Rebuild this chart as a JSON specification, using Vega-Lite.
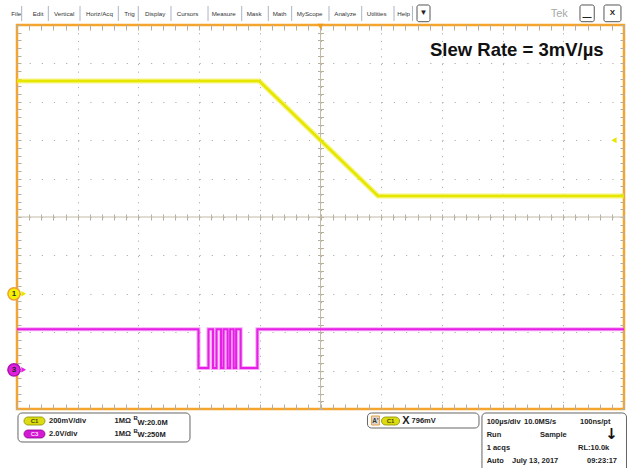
{
  "$schema": "https://vega.github.io/schema/vega-lite/v6.json",
  "width": 607,
  "height": 384,
  "autosize": {"type": "none"},
  "padding": {"left": 17, "top": 25, "right": 4, "bottom": 59},
  "background": "white",
  "config": {
    "view": {"stroke": "#f5a52c", "strokeWidth": 2.5},
    "font": "Liberation Sans",
    "text": {"font": "Liberation Sans"}
  },
  "datasets": {
    "yellow": [
      {"t": -500, "div": 3.54},
      {"t": -100.8, "div": 3.54},
      {"t": 94.7, "div": 0.55},
      {"t": 500, "div": 0.55}
    ],
    "magenta": [
      {"t": -500, "div": -2.92},
      {"t": -201.0, "div": -3.93},
      {"t": -184.5, "div": -2.92},
      {"t": -177.1, "div": -3.93},
      {"t": -171.3, "div": -2.92},
      {"t": -163.9, "div": -3.93},
      {"t": -159.8, "div": -2.92},
      {"t": -153.0, "div": -3.93},
      {"t": -148.9, "div": -2.92},
      {"t": -143.0, "div": -3.93},
      {"t": -139.0, "div": -2.92},
      {"t": -131.5, "div": -3.93},
      {"t": -104.0, "div": -2.92},
      {"t": 500, "div": -2.92}
    ],
    "centerLines": [
      {"t": 0, "t2": 0, "div": -5, "div2": 5},
      {"t": -500, "t2": 500, "div": 0, "div2": 0}
    ],
    "menu": [
      {"label": "File", "t": -509.5, "div": 5.29},
      {"label": "Edit", "t": -474.1, "div": 5.29},
      {"label": "Vertical", "t": -439.0, "div": 5.29},
      {"label": "Horiz/Acq", "t": -386.3, "div": 5.29},
      {"label": "Trig", "t": -323.2, "div": 5.29},
      {"label": "Display", "t": -289.1, "div": 5.29},
      {"label": "Cursors", "t": -236.9, "div": 5.29},
      {"label": "Measure", "t": -179.3, "div": 5.29},
      {"label": "Mask", "t": -121.6, "div": 5.29},
      {"label": "Math", "t": -78.8, "div": 5.29},
      {"label": "MyScope", "t": -39.2, "div": 5.29},
      {"label": "Analyze", "t": 22.7, "div": 5.29},
      {"label": "Utilities", "t": 76.1, "div": 5.29},
      {"label": "Help", "t": 126.5, "div": 5.29}
    ],
    "seps": [
      {"t": -492.3, "div": 5.495, "div2": 5.104},
      {"t": -448.4, "div": 5.495, "div2": 5.104},
      {"t": -396.2, "div": 5.495, "div2": 5.104},
      {"t": -333.1, "div": 5.495, "div2": 5.104},
      {"t": -300.2, "div": 5.495, "div2": 5.104},
      {"t": -246.3, "div": 5.495, "div2": 5.104},
      {"t": -185.3, "div": 5.495, "div2": 5.104},
      {"t": -129.8, "div": 5.495, "div2": 5.104},
      {"t": -86.0, "div": 5.495, "div2": 5.104},
      {"t": -47.5, "div": 5.495, "div2": 5.104},
      {"t": 14.0, "div": 5.495, "div2": 5.104},
      {"t": 67.9, "div": 5.495, "div2": 5.104},
      {"t": 121.1, "div": 5.495, "div2": 5.104},
      {"t": 151.5, "div": 5.495, "div2": 5.104}
    ],
    "buttons": [
      {"t": 159.0, "t2": 180.4, "div": 5.521, "div2": 5.086},
      {"t": 427.5, "t2": 451.0, "div": 5.521, "div2": 5.086},
      {"t": 467.0, "t2": 495.0, "div": 5.521, "div2": 5.086}
    ],
    "buttonGlyphs": [
      {"label": "▼", "t": 169.7, "div": 5.30},
      {"label": "X", "t": 481.0, "div": 5.30}
    ],
    "minGlyph": [
      {"label": "—", "t": 439.2, "div": 5.20}
    ],
    "tek": [
      {"label": "Tek", "t": 379.2, "div": 5.29}
    ],
    "boxes": [
      {"t": -498.4, "t2": -215.0, "div": -5.104, "div2": -5.859},
      {"t": 77.4, "t2": 261.1, "div": -5.104, "div2": -5.495},
      {"t": 266.0, "t2": 504.1, "div": -5.104, "div2": -6.65}
    ],
    "badgeC1": [
      {"t": -488.5, "t2": -453.9, "div": -5.208, "div2": -5.417},
      {"t": 100.5, "t2": 130.3, "div": -5.208, "div2": -5.417}
    ],
    "badgeC3": [
      {"t": -488.5, "t2": -453.9, "div": -5.547, "div2": -5.755}
    ],
    "badgeC1Text": [
      {"label": "C1", "t": -471.2, "div": -5.3125},
      {"label": "C1", "t": 115.4, "div": -5.3125}
    ],
    "badgeC3Text": [
      {"label": "C3", "t": -471.2, "div": -5.651}
    ],
    "aBox": [
      {"t": 84.0, "t2": 97.2, "div": -5.182, "div2": -5.417}
    ],
    "aText": [
      {"label": "A'", "t": 90.6, "div": -5.30}
    ],
    "infoText": [
      {"label": "200mV/div", "t": -447.3, "div": -5.3125},
      {"label": "1MΩ", "t": -339.4, "div": -5.3125},
      {"label": "W:20.0M", "t": -301.5, "div": -5.352},
      {"label": "2.0V/div", "t": -447.3, "div": -5.651},
      {"label": "1MΩ", "t": -339.4, "div": -5.651},
      {"label": "W:250M", "t": -301.5, "div": -5.690},
      {"label": "796mV", "t": 150.0, "div": -5.3125},
      {"label": "100µs/div", "t": 273.8, "div": -5.326},
      {"label": "10.0MS/s", "t": 335.2, "div": -5.326},
      {"label": "100ns/pt", "t": 427.5, "div": -5.326},
      {"label": "Run", "t": 273.8, "div": -5.677},
      {"label": "Sample", "t": 361.6, "div": -5.677},
      {"label": "1 acqs", "t": 273.8, "div": -6.016},
      {"label": "RL:10.0k", "t": 424.2, "div": -6.016},
      {"label": "Auto", "t": 273.8, "div": -6.354},
      {"label": "July 13, 2017", "t": 315.5, "div": -6.354},
      {"label": "09:23:17", "t": 439.0, "div": -6.354}
    ],
    "supB": [
      {"label": "B", "t": -308.0, "div": -5.234},
      {"label": "B", "t": -308.0, "div": -5.573}
    ],
    "bigGlyphs": [
      {"label": "X", "t": 140.8, "div": -5.3125}
    ],
    "arrowGlyph": [
      {"label": "↓", "t": 479.5, "div": -5.66}
    ],
    "ch1Marker": [{"label": "1", "t": -504.9, "div": -2.0}],
    "ch3Marker": [{"label": "3", "t": -504.9, "div": -3.98}],
    "ch1Arrow": [{"t": -489.0, "div": -2.0}],
    "ch3Arrow": [{"t": -489.0, "div": -3.98}],
    "trigPos": [{"t": 0, "div": 4.96}],
    "trigLevel": [{"t": 483.5, "div": 2.0}],
    "note": [{"label": "Slew Rate = 3mV/µs", "t": 180.4, "div": 4.193}]
  },
  "encoding": {
    "x": {"field": "t", "type": "quantitative", "scale": {"domain": [-500, 500], "nice": false, "zero": false}, "axis": null},
    "y": {"field": "div", "type": "quantitative", "scale": {"domain": [-5, 5], "nice": false, "zero": false}, "axis": null}
  },
  "resolve": {"axis": {"x": "independent", "y": "independent"}},
  "layer": [
    {
      "data": {"values": [{"t": 0, "div": 0}]},
      "mark": {"type": "point", "opacity": 0},
      "encoding": {
        "x": {"field": "t", "type": "quantitative", "scale": {"domain": [-500, 500], "nice": false, "zero": false},
          "axis": {"orient": "bottom", "tickCount": 10, "grid": true, "gridDash": [1.2, 6.48], "gridColor": "#b0b0b0", "gridWidth": 1, "ticks": false, "labels": false, "domain": false, "title": null}},
        "y": {"field": "div", "type": "quantitative", "scale": {"domain": [-5, 5], "nice": false, "zero": false},
          "axis": {"orient": "left", "tickCount": 10, "grid": true, "gridDash": [1.2, 10.94], "gridColor": "#b0b0b0", "gridWidth": 1, "ticks": false, "labels": false, "domain": false, "title": null}}
      }
    },
    {
      "data": {"values": [{"t": 0, "div": 0}]},
      "mark": {"type": "point", "opacity": 0},
      "encoding": {
        "x": {"field": "t", "type": "quantitative", "scale": {"domain": [-500, 500], "nice": false, "zero": false},
          "axis": {"orient": "top", "tickCount": 50, "offset": -5, "tickSize": 5, "tickColor": "#b8ae9c", "labels": false, "domain": false, "grid": false, "title": null}},
        "y": {"field": "div", "type": "quantitative", "scale": {"domain": [-5, 5], "nice": false, "zero": false},
          "axis": {"orient": "left", "tickCount": 50, "offset": -4, "tickSize": 4, "tickColor": "#b8ae9c", "labels": false, "domain": false, "grid": false, "title": null}}
      }
    },
    {
      "data": {"values": [{"t": 0, "div": 0}]},
      "mark": {"type": "point", "opacity": 0},
      "encoding": {
        "x": {"field": "t", "type": "quantitative", "scale": {"domain": [-500, 500], "nice": false, "zero": false},
          "axis": {"orient": "bottom", "tickCount": 50, "offset": -5, "tickSize": 5, "tickColor": "#b8ae9c", "labels": false, "domain": false, "grid": false, "title": null}},
        "y": {"field": "div", "type": "quantitative", "scale": {"domain": [-5, 5], "nice": false, "zero": false},
          "axis": {"orient": "right", "tickCount": 50, "offset": -4, "tickSize": 4, "tickColor": "#b8ae9c", "labels": false, "domain": false, "grid": false, "title": null}}
      }
    },
    {
      "data": {"values": [{"t": 0, "div": 0}]},
      "mark": {"type": "point", "opacity": 0},
      "encoding": {
        "x": {"field": "t", "type": "quantitative", "scale": {"domain": [-500, 500], "nice": false, "zero": false},
          "axis": {"orient": "bottom", "tickCount": 50, "offset": -195, "tickSize": 6, "tickColor": "#b8ae9c", "labels": false, "domain": false, "grid": false, "title": null}},
        "y": {"field": "div", "type": "quantitative", "scale": {"domain": [-5, 5], "nice": false, "zero": false},
          "axis": {"orient": "left", "tickCount": 50, "offset": -306.5, "tickSize": 6, "tickColor": "#b8ae9c", "labels": false, "domain": false, "grid": false, "title": null}}
      }
    },
    {
      "data": {"name": "centerLines"},
      "mark": {"type": "rule", "color": "#c4baa8", "strokeWidth": 1},
      "encoding": {"x2": {"field": "t2"}, "y2": {"field": "div2"}}
    },
    {
      "data": {"name": "magenta"},
      "mark": {"type": "line", "interpolate": "step-after", "color": "#f070f0", "strokeWidth": 4, "opacity": 0.6},
      "encoding": {}
    },
    {
      "data": {"name": "magenta"},
      "mark": {"type": "line", "interpolate": "step-after", "color": "#e61ee6", "strokeWidth": 2},
      "encoding": {}
    },
    {
      "data": {"name": "yellow"},
      "mark": {"type": "line", "color": "#eeee30", "strokeWidth": 5, "opacity": 0.6},
      "encoding": {}
    },
    {
      "data": {"name": "yellow"},
      "mark": {"type": "line", "color": "#e6e600", "strokeWidth": 2.5},
      "encoding": {}
    },
    {
      "data": {"name": "ch1Arrow"},
      "mark": {"type": "point", "shape": "triangle-right", "filled": true, "color": "#e6e600", "size": 30, "opacity": 1},
      "encoding": {}
    },
    {
      "data": {"name": "ch3Arrow"},
      "mark": {"type": "point", "shape": "triangle-right", "filled": true, "color": "#e61ee6", "size": 30, "opacity": 1},
      "encoding": {}
    },
    {
      "data": {"name": "ch1Marker"},
      "mark": {"type": "point", "shape": "circle", "filled": true, "fill": "#f2f200", "stroke": "#f0a030", "strokeWidth": 1.5, "size": 150, "opacity": 1},
      "encoding": {}
    },
    {
      "data": {"name": "ch3Marker"},
      "mark": {"type": "point", "shape": "circle", "filled": true, "fill": "#e020e0", "stroke": "#b010b0", "strokeWidth": 1.5, "size": 150, "opacity": 1},
      "encoding": {}
    },
    {
      "data": {"name": "ch1Marker"},
      "mark": {"type": "text", "fontSize": 8, "fontWeight": "bold", "color": "#333333", "align": "center", "baseline": "middle"},
      "encoding": {"text": {"field": "label"}}
    },
    {
      "data": {"name": "ch3Marker"},
      "mark": {"type": "text", "fontSize": 8, "fontWeight": "bold", "color": "#222222", "align": "center", "baseline": "middle"},
      "encoding": {"text": {"field": "label"}}
    },
    {
      "data": {"name": "trigPos"},
      "mark": {"type": "point", "shape": "triangle-down", "filled": true, "color": "#f39c12", "size": 40, "opacity": 1},
      "encoding": {}
    },
    {
      "data": {"name": "trigLevel"},
      "mark": {"type": "point", "shape": "triangle-left", "filled": true, "color": "#e6e600", "size": 35, "opacity": 1},
      "encoding": {}
    },
    {
      "data": {"name": "note"},
      "mark": {"type": "text", "fontSize": 18.5, "fontWeight": "bold", "color": "#111111", "align": "left", "baseline": "alphabetic"},
      "encoding": {"text": {"field": "label"}}
    },
    {
      "data": {"name": "menu"},
      "mark": {"type": "text", "fontSize": 6.2, "color": "#333333", "align": "left", "baseline": "middle"},
      "encoding": {"text": {"field": "label"}}
    },
    {
      "data": {"name": "seps"},
      "mark": {"type": "rule", "color": "#aab4c8", "strokeWidth": 1},
      "encoding": {"y2": {"field": "div2"}}
    },
    {
      "data": {"name": "buttons"},
      "mark": {"type": "rect", "fill": "white", "stroke": "#555555", "strokeWidth": 1, "cornerRadius": 2},
      "encoding": {"x2": {"field": "t2"}, "y2": {"field": "div2"}}
    },
    {
      "data": {"name": "buttonGlyphs"},
      "mark": {"type": "text", "fontSize": 8, "fontWeight": "bold", "color": "#222222", "align": "center", "baseline": "middle"},
      "encoding": {"text": {"field": "label"}}
    },
    {
      "data": {"name": "minGlyph"},
      "mark": {"type": "text", "fontSize": 9, "fontWeight": "bold", "color": "#222222", "align": "center", "baseline": "middle"},
      "encoding": {"text": {"field": "label"}}
    },
    {
      "data": {"name": "tek"},
      "mark": {"type": "text", "fontSize": 11, "color": "#a8a8a8", "align": "left", "baseline": "middle"},
      "encoding": {"text": {"field": "label"}}
    },
    {
      "data": {"name": "boxes"},
      "mark": {"type": "rect", "fill": "white", "stroke": "#666666", "strokeWidth": 1, "cornerRadius": 4},
      "encoding": {"x2": {"field": "t2"}, "y2": {"field": "div2"}}
    },
    {
      "data": {"name": "badgeC1"},
      "mark": {"type": "rect", "fill": "#dcdc10", "stroke": "#8a8a00", "strokeWidth": 0.8, "cornerRadius": 4},
      "encoding": {"x2": {"field": "t2"}, "y2": {"field": "div2"}}
    },
    {
      "data": {"name": "badgeC3"},
      "mark": {"type": "rect", "fill": "#d418d4", "stroke": "#8a008a", "strokeWidth": 0.8, "cornerRadius": 4},
      "encoding": {"x2": {"field": "t2"}, "y2": {"field": "div2"}}
    },
    {
      "data": {"name": "aBox"},
      "mark": {"type": "rect", "fill": "#d6d6d6", "stroke": "#f0a040", "strokeWidth": 1},
      "encoding": {"x2": {"field": "t2"}, "y2": {"field": "div2"}}
    },
    {
      "data": {"name": "aText"},
      "mark": {"type": "text", "fontSize": 6.5, "fontWeight": "bold", "color": "#333333", "align": "center", "baseline": "middle"},
      "encoding": {"text": {"field": "label"}}
    },
    {
      "data": {"name": "badgeC1Text"},
      "mark": {"type": "text", "fontSize": 6, "fontWeight": "bold", "color": "#4a4a00", "align": "center", "baseline": "middle"},
      "encoding": {"text": {"field": "label"}}
    },
    {
      "data": {"name": "badgeC3Text"},
      "mark": {"type": "text", "fontSize": 6, "fontWeight": "bold", "color": "#ffd8ff", "align": "center", "baseline": "middle"},
      "encoding": {"text": {"field": "label"}}
    },
    {
      "data": {"name": "infoText"},
      "mark": {"type": "text", "fontSize": 7.5, "fontWeight": "bold", "color": "#222222", "align": "left", "baseline": "middle"},
      "encoding": {"text": {"field": "label"}}
    },
    {
      "data": {"name": "supB"},
      "mark": {"type": "text", "fontSize": 6, "fontWeight": "bold", "color": "#222222", "align": "left", "baseline": "middle"},
      "encoding": {"text": {"field": "label"}}
    },
    {
      "data": {"name": "bigGlyphs"},
      "mark": {"type": "text", "fontSize": 11, "fontWeight": "bold", "color": "#222222", "align": "center", "baseline": "middle"},
      "encoding": {"text": {"field": "label"}}
    },
    {
      "data": {"name": "arrowGlyph"},
      "mark": {"type": "text", "fontSize": 15, "fontWeight": "bold", "font": "DejaVu Sans", "color": "#111111", "align": "center", "baseline": "middle"},
      "encoding": {"text": {"field": "label"}}
    }
  ]
}
